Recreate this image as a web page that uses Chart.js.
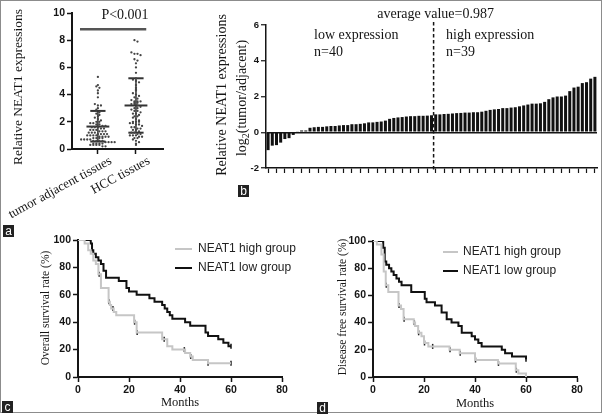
<!DOCTYPE html>
<html><head><meta charset="utf-8">
<script src="https://cdn.jsdelivr.net/npm/chart.js@4.4.1/dist/chart.umd.min.js"></script>
<style>
body{margin:0;background:#fff}
#wrap{position:relative;width:605px;height:416px;overflow:hidden;background:#fff}
#frame{position:absolute;left:0;top:0;width:600px;height:411px;border:1.5px solid #8c8c8c}
canvas{position:absolute}
.lab{position:absolute;background:#222;color:#fff;font:12px "Liberation Sans",Arial,sans-serif;width:11px;height:12px;line-height:12px;text-align:center}
</style>
</head><body>
<div id="wrap">
<div id="frame"></div>
<canvas id="ca" width="190" height="228" style="left:0;top:0"></canvas>
<canvas id="cb" width="412" height="228" style="left:190px;top:0"></canvas>
<canvas id="cc" width="300" height="189" style="left:0;top:225px"></canvas>
<canvas id="cd" width="302" height="189" style="left:300px;top:225px"></canvas>
<div class="lab" style="left:3px;top:225px">a</div>
<div class="lab" style="left:238px;top:185px">b</div>
<div class="lab" style="left:2px;top:401px">c</div>
<div class="lab" style="left:317px;top:402px">d</div>
</div>
<script>
// ---------- DATA ----------
const scatterCategories = ['tumor adjacent tissues', 'HCC tissues'];
const adjacentValues = [5.3,4.7,4.6,4.5,4.3,4.1,3.8,3.3,3.2,3.2,3.0,2.9,2.7,2.6,2.5,2.4,2.3,2.2,2.1,2.0,
  2.0,1.9,1.9,1.8,1.8,1.7,1.7,1.6,1.6,1.6,1.5,1.5,1.4,1.4,1.4,1.3,1.3,1.3,1.2,1.2,
  1.2,1.1,1.1,1.1,1.1,1.0,1.0,1.0,1.0,0.9,0.9,0.9,0.9,0.8,0.8,0.8,0.8,0.7,0.7,0.7,
  0.7,0.6,0.6,0.6,0.6,0.5,0.5,0.5,0.5,0.4,0.4,0.4,0.4,0.3,0.3,0.3,0.3,0.2,0.2];
const hccValues = [8.0,7.9,7.1,7.0,7.0,6.9,6.6,6.5,6.3,6.0,5.6,5.2,5.1,5.0,4.9,4.7,4.5,4.4,4.3,4.1,
  4.0,3.9,3.8,3.7,3.6,3.5,3.5,3.5,3.4,3.4,3.3,3.3,3.2,3.1,3.0,3.0,2.9,2.8,2.8,2.7,
  2.6,2.6,2.5,2.4,2.4,2.3,2.2,2.1,2.0,2.0,2.0,1.9,1.9,1.8,1.8,1.7,1.6,1.6,1.5,1.5,
  1.4,1.4,1.3,1.2,1.2,1.1,1.1,1.0,1.0,1.0,0.9,0.9,0.8,0.8,0.7,0.6,0.5,0.4,0.3];
const groupMeans = [1.65, 3.2];
const groupSdLow = [0.55, 1.2];
const groupSdHigh = [2.8, 5.2];
const pLineY = 8.8;

const log2Ratios = [-1.0,-0.75,-0.72,-0.58,-0.38,-0.33,-0.15,0.05,0.1,0.1,
  0.25,0.28,0.3,0.3,0.33,0.35,0.35,0.38,0.4,0.4,
  0.45,0.45,0.47,0.5,0.55,0.55,0.58,0.6,0.65,0.75,
  0.8,0.83,0.85,0.88,0.9,0.9,0.92,0.92,0.93,0.95,
  1.0,1.0,1.02,1.03,1.05,1.07,1.08,1.1,1.1,1.12,
  1.12,1.15,1.2,1.25,1.28,1.3,1.35,1.35,1.38,1.4,
  1.45,1.5,1.55,1.6,1.6,1.62,1.7,1.85,1.95,2.0,
  2.0,2.05,2.3,2.5,2.55,2.75,2.8,3.0,3.1];
const lowCount = 40, highCount = 39, averageValue = '0.987';

const osHighT = [0,2.6,4,5,6,7,8,9,12,12.5,13,14,15,22,23,33,35,37,42,44,45,51,60];
const osHighS = [100,97.5,92.5,90,85,82.5,75,65,55,52.5,50,47.5,45,40,32.5,27.5,22.5,20,17.5,15,12.5,10,10];
const osLowT = [0,5,5.5,6,7,8,9,10,11,16,19,20,23,28,30,33,34,35,36,37,42,44,50,51,55,57,59,60];
const osLowS = [100,97.5,92.5,90,87.5,85,82.5,77.5,72.5,70,65,62.5,60,57.5,55,52.5,50,47.5,45,42.5,40,37.5,32.5,30,27.5,25,22.5,22.5];
const osHighCensor = [8.3,12.2,13.7,22.2,23.2,33.8,41.7,44.2,51,60];
const osLowCensor = [60];

const dfsHighT = [0,1.5,3.3,4.2,5,6,10,11,12,16,16.5,17.7,19,20,21.7,30,34,40,49,56,57,60];
const dfsHighS = [100,97.5,90,77.5,67.5,62.5,52.5,50,42.5,40,37.5,32.5,30,25,22.5,20,17.5,12.5,10,5,2.5,0];
const dfsLowT = [0,4,4.6,5.2,6.3,7.2,8.1,9.2,10.2,11.2,15,20.3,21,24.3,26.9,28.9,30.8,33.5,34.8,38.7,40,41.3,42.6,50.5,51.8,54.5,60];
const dfsLowS = [100,95,85,82.5,80,77.5,75,72.5,70,67.5,62.5,57.5,55,52.5,47.5,42.5,40,37.5,32.5,30,27.5,25,22.5,20,17.5,15,13];
const dfsHighCensor = [5.2,10.2,12.2,16.2,17.9,20.2,23.4,30.2,34.2,40.2,49.2,56.2];
const dfsLowCensor = [60];

const legendLabels = ['NEAT1 high group', 'NEAT1 low group'];

// ---------- HELPERS ----------
const SERIF = '"Liberation Serif","Times New Roman",serif';
const SANS = '"Liberation Sans",Arial,sans-serif';
const INK = '#151515';
const GRAYLINE = '#c6c6c6';

function swarm(vals, cx, bin, step) {
  const bins = new Map();
  vals.forEach(v => { const b = Math.round(v / bin); if (!bins.has(b)) bins.set(b, []); bins.get(b).push(v); });
  const out = [];
  bins.forEach(arr => arr.forEach((v, k) => out.push({x: cx + (k - (arr.length - 1) / 2) * step, y: v})));
  return out;
}
function pts(t, s) { return t.map((x, i) => ({x, y: s[i]})); }
function stepAt(t, s, x) { let v = s[0]; for (let i = 0; i < t.length; i++) { if (t[i] <= x) v = s[i]; } return v; }
function censorPts(ct, t, s) { return ct.map(x => ({x, y: stepAt(t, s, x)})); }

function axisCommon(size) {
  return {
    border: {color: INK, width: 2},
    grid: {drawOnChartArea: false, drawTicks: true, tickLength: 5, tickColor: INK, tickWidth: 1.5},
    ticks: {color: INK, font: {family: SANS, size: size, weight: 'bold'}, padding: 2}
  };
}
function rotText(ctx, text, x, y, font, angle, align) {
  ctx.save(); ctx.translate(x, y); ctx.rotate(angle);
  ctx.font = font; ctx.fillStyle = INK; ctx.textAlign = align || 'center'; ctx.textBaseline = 'middle';
  ctx.fillText(text, 0, 0); ctx.restore();
}
Chart.defaults.animation = false;
Chart.defaults.responsive = false;
Chart.defaults.plugins.legend.display = false;
Chart.defaults.plugins.tooltip.enabled = false;

// ---------- PANEL A ----------
const axA = axisCommon(10.5);
new Chart(document.getElementById('ca'), {
  type: 'scatter',
  data: {datasets: [
    {data: swarm(adjacentValues, 0, 0.2, 0.08), pointRadius: 1.15, pointBackgroundColor: '#444', pointBorderWidth: 0},
    {data: swarm(hccValues, 1, 0.2, 0.08), pointRadius: 1.15, pointBackgroundColor: '#444', pointBorderWidth: 0},
    ...[0, 1].flatMap(i => [
      {type: 'line', data: [{x: i - 0.3, y: groupMeans[i]}, {x: i + 0.3, y: groupMeans[i]}], borderColor: '#333', borderWidth: 2, pointRadius: 0},
      {type: 'line', data: [{x: i - 0.2, y: groupSdHigh[i]}, {x: i + 0.2, y: groupSdHigh[i]}], borderColor: '#333', borderWidth: 2, pointRadius: 0},
      {type: 'line', data: [{x: i - 0.2, y: groupSdLow[i]}, {x: i + 0.2, y: groupSdLow[i]}], borderColor: '#333', borderWidth: 2, pointRadius: 0},
      {type: 'line', data: [{x: i, y: groupSdLow[i]}, {x: i, y: groupSdHigh[i]}], borderColor: '#333', borderWidth: 1.5, pointRadius: 0}
    ]),
    {type: 'line', data: [{x: -0.47, y: pLineY}, {x: 1.27, y: pLineY}], borderColor: '#555', borderWidth: 2.5, pointRadius: 0}
  ]},
  options: {
    layout: {padding: {left: 0, top: 13, right: 27, bottom: 0}},
    scales: {
      x: {type: 'linear', min: -0.68, max: 1.71, ...axA,
        ticks: {display: false},
        afterBuildTicks: s => { s.ticks = [{value: 0}, {value: 1}]; },
        afterFit: s => { s.height = 79; }},
      y: {min: 0, max: 10, ...axA, ticks: {...axA.ticks, stepSize: 2},
        afterFit: s => { s.width = 72; }}
    }
  },
  plugins: [{id: 'decoA', afterDraw(c) {
    const ctx = c.ctx, x = c.scales.x, y = c.scales.y;
    rotText(ctx, 'Relative NEAT1 expressions', 18, 87, '13.5px ' + SERIF, -Math.PI / 2);
    scatterCategories.forEach((lab, i) => rotText(ctx, lab, x.getPixelForValue(i) + 13, y.bottom + 11, '13px ' + SERIF, -0.5, 'right'));
    ctx.save(); ctx.font = '14px ' + SERIF; ctx.fillStyle = INK; ctx.textAlign = 'center'; ctx.textBaseline = 'middle';
    ctx.fillText('P<0.001', 125, 15); ctx.restore();
  }}]
});

// ---------- PANEL B ----------
const axB = axisCommon(9.5);
new Chart(document.getElementById('cb'), {
  type: 'bar',
  data: {labels: log2Ratios.map((_, i) => String(i + 1)),
    datasets: [{data: log2Ratios, backgroundColor: '#111', barPercentage: 0.72, categoryPercentage: 1}]},
  options: {
    layout: {padding: {left: 0, top: 25, right: 5, bottom: 0}},
    scales: {
      x: {...axB, offset: true, grid: {...axB.grid, offset: false, tickWidth: 1.2},
        border: {color: INK, width: 1.5},
        ticks: {display: false},
        afterBuildTicks: s => { s.ticks = s.ticks.filter(t => t.value % 2 === 0); },
        afterFit: s => { s.height = 60; }},
      y: {min: -2, max: 6, ...axB, border: {color: INK, width: 1.5},
        grid: {drawOnChartArea: true, drawTicks: true, tickLength: 5, tickColor: INK, tickWidth: 1.2,
          color: g => (g.tick && g.tick.value === 0) ? INK : 'rgba(0,0,0,0)', lineWidth: 1.5},
        ticks: {...axB.ticks, stepSize: 2},
        afterFit: s => { s.width = 76; }}
    }
  },
  plugins: [{id: 'decoB', afterDraw(c) {
    const ctx = c.ctx, x = c.scales.x, y = c.scales.y;
    const xm = (x.getPixelForValue(lowCount - 1) + x.getPixelForValue(lowCount)) / 2;
    ctx.save(); ctx.strokeStyle = INK; ctx.lineWidth = 1.5; ctx.setLineDash([3.5, 2.5]);
    ctx.beginPath(); ctx.moveTo(xm, 22); ctx.lineTo(xm, y.bottom + 3); ctx.stroke(); ctx.restore();
    ctx.save(); ctx.font = '14px ' + SERIF; ctx.fillStyle = INK; ctx.textBaseline = 'middle';
    ctx.textAlign = 'center'; ctx.fillText('average value=' + averageValue, xm + 2, 14);
    ctx.textAlign = 'left';
    ctx.fillText('low expression', 124, 35); ctx.fillText('n=' + lowCount, 124, 52);
    ctx.fillText('high expression', 256, 35); ctx.fillText('n=' + highCount, 256, 52);
    ctx.restore();
    rotText(ctx, 'Relative NEAT1 expressions', 32, 95, '14px ' + SERIF, -Math.PI / 2);
    ctx.save(); ctx.translate(52, 98); ctx.rotate(-Math.PI / 2); ctx.fillStyle = INK; ctx.textBaseline = 'middle';
    const a = 'log', b = '(tumor/adjacent)';
    ctx.font = '10px ' + SERIF; const wsub = ctx.measureText('2').width;
    ctx.font = '14px ' + SERIF; const wa = ctx.measureText(a).width, wb = ctx.measureText(b).width;
    let sx = -(wa + wsub + wb) / 2;
    ctx.textAlign = 'left'; ctx.fillText(a, sx, 0); sx += wa;
    ctx.font = '10px ' + SERIF; ctx.fillText('2', sx, 4); sx += wsub;
    ctx.font = '14px ' + SERIF; ctx.fillText(b, sx, 0);
    ctx.restore();
  }}]
});

// ---------- PANELS C & D ----------
function kmChart(id, highT, highS, lowT, lowS, highC, lowC, cfg) {
  const ax = axisCommon(10.5);
  new Chart(document.getElementById(id), {
    type: 'line',
    data: {datasets: [
      {label: legendLabels[0], data: pts(highT, highS), stepped: true, borderColor: GRAYLINE, borderWidth: 2, pointRadius: 0},
      {label: legendLabels[1], data: pts(lowT, lowS), stepped: true, borderColor: '#111', borderWidth: 2, pointRadius: 0},
      {type: 'scatter', data: censorPts(highC, highT, highS), pointStyle: 'line', rotation: 90, pointRadius: 2.5, borderColor: '#222', borderWidth: 1.5},
      {type: 'scatter', data: censorPts(lowC, lowT, lowS), pointStyle: 'line', rotation: 90, pointRadius: 2.5, borderColor: '#111', borderWidth: 1.5}
    ]},
    options: {
      layout: {padding: {left: 0, top: cfg.top, right: cfg.right, bottom: 0}},
      scales: {
        x: {type: 'linear', min: 0, max: 80, ...ax, ticks: {...ax.ticks, stepSize: 20},
          afterFit: s => { s.height = cfg.xh; }},
        y: {min: 0, max: 100, ...ax, ticks: {...ax.ticks, stepSize: 20},
          afterFit: s => { s.width = cfg.yw; }}
      }
    },
    plugins: [{id: 'deco' + id, afterDraw(c) {
      const ctx = c.ctx;
      rotText(ctx, cfg.ytitle, cfg.ytx, cfg.yty, '11.5px ' + SERIF, -Math.PI / 2);
      rotText(ctx, 'Months', cfg.mx, cfg.my, '12.5px ' + SERIF, 0);
      [GRAYLINE, '#111'].forEach((col, i) => {
        const ly = cfg.ly[i];
        ctx.save(); ctx.strokeStyle = col; ctx.lineWidth = 2;
        ctx.beginPath(); ctx.moveTo(cfg.lx0, ly); ctx.lineTo(cfg.lx1, ly); ctx.stroke();
        ctx.font = '12px ' + SANS; ctx.fillStyle = '#222'; ctx.textBaseline = 'middle'; ctx.textAlign = 'left';
        ctx.fillText(legendLabels[i], cfg.tx, ly); ctx.restore();
      });
    }}]
  });
}
kmChart('cc', osHighT, osHighS, osLowT, osLowS, osHighCensor, osLowCensor,
  {top: 15, right: 18, xh: 37, yw: 78, ytitle: 'Overall survival rate (%)', ytx: 46, yty: 83, mx: 180, my: 178,
   lx0: 175, lx1: 192, tx: 198, ly: [24, 43]});
kmChart('cd', dfsHighT, dfsHighS, dfsLowT, dfsLowS, dfsHighCensor, dfsLowCensor,
  {top: 16, right: 25, xh: 37, yw: 73, ytitle: 'Disease free survival rate (%)', ytx: 43, yty: 82, mx: 175, my: 179,
   lx0: 143, lx1: 158, tx: 163, ly: [27, 46]});
</script>
</body></html>
